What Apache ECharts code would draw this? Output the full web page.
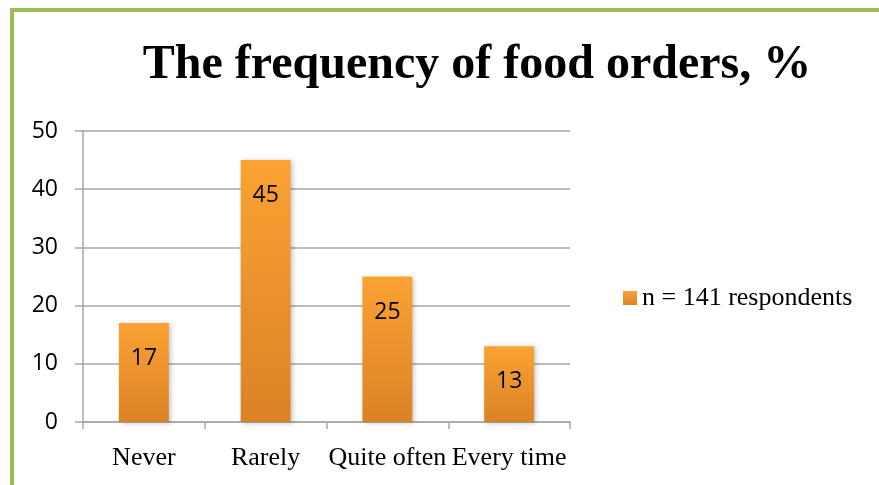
<!DOCTYPE html>
<html>
<head>
<meta charset="utf-8">
<script src="https://cdn.jsdelivr.net/npm/echarts@6/dist/echarts.min.js"></script>
<style>
  html, body { margin: 0; padding: 0; background: #ffffff; }
  #frame {
    position: absolute; left: 10px; top: 8px; right: -10px; bottom: -10px;
    border-left: 4px solid #9bbb59; border-top: 4px solid #9bbb59;
  }
  #chart { position: absolute; left: 0; top: 0; width: 879px; height: 485px; }
</style>
</head>
<body>
<div id="frame"></div>
<div id="chart"></div>
<script>
// Survey answers: how often respondents order food
const categories = ['Never', 'Rarely', 'Quite often', 'Every time'];
const shares = [17, 45, 25, 13];
const seriesName = 'n = 141 respondents';
const yTicks = [0, 10, 20, 30, 40, 50];

const chart = echarts.init(document.getElementById('chart'), null, { renderer: 'canvas' });

const gridColor = '#a6a6a6';
const serif = '"Liberation Serif", "Times New Roman", serif';
const sans = '"Open Sans", sans-serif';

chart.setOption({
  backgroundColor: 'transparent',
  animation: false,
  title: {
    text: 'The frequency of food orders, %',
    left: 472,
    textAlign: 'center',
    top: 37,
    textStyle: { fontFamily: serif, fontWeight: 'bold', fontSize: 48, color: '#000' }
  },
  legend: {
    data: [seriesName],
    left: 618,
    top: 280,
    itemWidth: 14,
    itemHeight: 14,
    itemGap: 7,
    icon: 'rect',
    textStyle: { fontFamily: serif, fontSize: 26, color: '#000', padding: [0, 0, 0, 0] }
  },
  grid: { left: 83, right: 309, top: 131, bottom: 63, containLabel: false },
  xAxis: {
    type: 'category',
    data: categories,
    boundaryGap: true,
    axisLine: { lineStyle: { color: gridColor, width: 1.5 } },
    axisTick: { show: true, length: 7, lineStyle: { color: gridColor, width: 1.5 } },
    axisLabel: { fontFamily: serif, fontSize: 26, color: '#000', margin: 23, interval: 0 }
  },
  yAxis: {
    type: 'value',
    min: yTicks[0],
    max: yTicks[yTicks.length - 1],
    interval: 10,
    axisLine: { show: true, lineStyle: { color: gridColor, width: 1.5 } },
    axisTick: { show: true, length: 8, lineStyle: { color: gridColor, width: 1.5 } },
    splitLine: { lineStyle: { color: gridColor, width: 1.5 } },
    axisLabel: { fontFamily: sans, fontSize: 23, color: '#000', margin: 25 }
  },
  series: [{
    name: seriesName,
    type: 'bar',
    data: shares,
    barWidth: '41%',
    itemStyle: {
      color: new echarts.graphic.LinearGradient(0, 0, 0, 1, [
        { offset: 0, color: '#fba233' },
        { offset: 1, color: '#db8227' }
      ]),
      shadowColor: 'rgba(0,0,0,0.25)',
      shadowBlur: 5,
      shadowOffsetX: 2,
      shadowOffsetY: 1
    },
    label: {
      show: true,
      position: 'insideTop',
      distance: 24,
      fontFamily: sans,
      fontSize: 23,
      color: '#000'
    }
  }]
});
</script>
</body>
</html>
